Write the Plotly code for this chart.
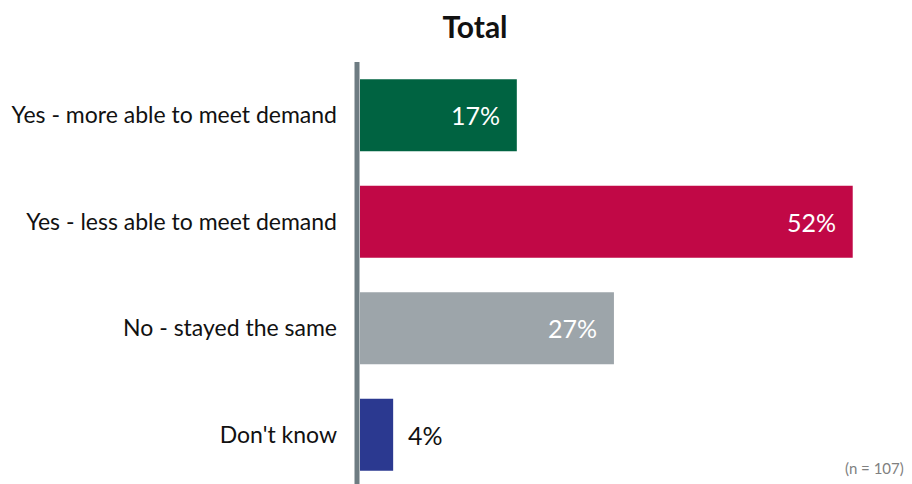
import plotly.graph_objects as go

categories = ["Yes - more able to meet demand", "Yes - less able to meet demand",
              "No - stayed the same", "Don't know"]
values = [16.55, 52.0, 26.8, 3.5]
value_labels = ["17%", "52%", "27%", "4%"]
colors = ["#006341", "#C10846", "#9DA5AA", "#2B3990"]
inside = [True, True, True, False]

# page body has an 8px margin, so the figure is drawn at (8, 8)
OFF = 8
W, H = 912 - OFF, 484 - OFF
L, R, T, B = 360 - OFF, 21, 62 - OFF, 0
XMAX = 56.04
PW, PH = W - L - R, H - T - B

fig = go.Figure()
fig.add_trace(go.Bar(
    y=list(range(len(categories))), x=values, orientation="h",
    marker=dict(color=colors, line=dict(width=0)), width=0.676,
    hoverinfo="skip",
))

for i, (v, lab, ins) in enumerate(zip(values, value_labels, inside)):
    fig.add_annotation(
        x=v, y=i, xref="x", yref="y", text=lab, showarrow=False,
        xanchor="right" if ins else "left", xshift=-15 if ins else 13,
        font=dict(family="Lato", size=25, color="white" if ins else "#111111"),
    )

# vertical axis line
fig.add_shape(type="line", xref="paper", yref="paper",
              x0=-3 / PW, x1=-3 / PW, y0=0, y1=1,
              line=dict(color="#6E7C82", width=5))

fig.add_annotation(text="(n = 107)", xref="paper", yref="paper",
                   x=(906 - OFF - L) / PW, y=(PH - (468 - OFF - T)) / PH,
                   xanchor="right", yanchor="middle", showarrow=False,
                   font=dict(family="Lato", size=15, color="#808080"))

fig.update_layout(
    width=W, height=H,
    margin=dict(l=L, r=R, t=T, b=B, pad=0),
    paper_bgcolor="white", plot_bgcolor="white",
    showlegend=False,
    title=dict(text="<b>Total</b>", x=(475 - OFF) / W, xanchor="center",
               y=1 - (27 - OFF) / H, yanchor="middle",
               font=dict(family="Lato", size=30, color="#111111")),
    xaxis=dict(range=[0, XMAX], visible=False, fixedrange=True),
    yaxis=dict(range=[3.463, -0.5], tickvals=list(range(len(categories))),
               ticktext=categories, showgrid=False, zeroline=False, showline=False,
               ticks="", ticklabelstandoff=22,
               tickfont=dict(family="Lato", size=23, color="#111111")),
)

fig.write_html("out.html")
